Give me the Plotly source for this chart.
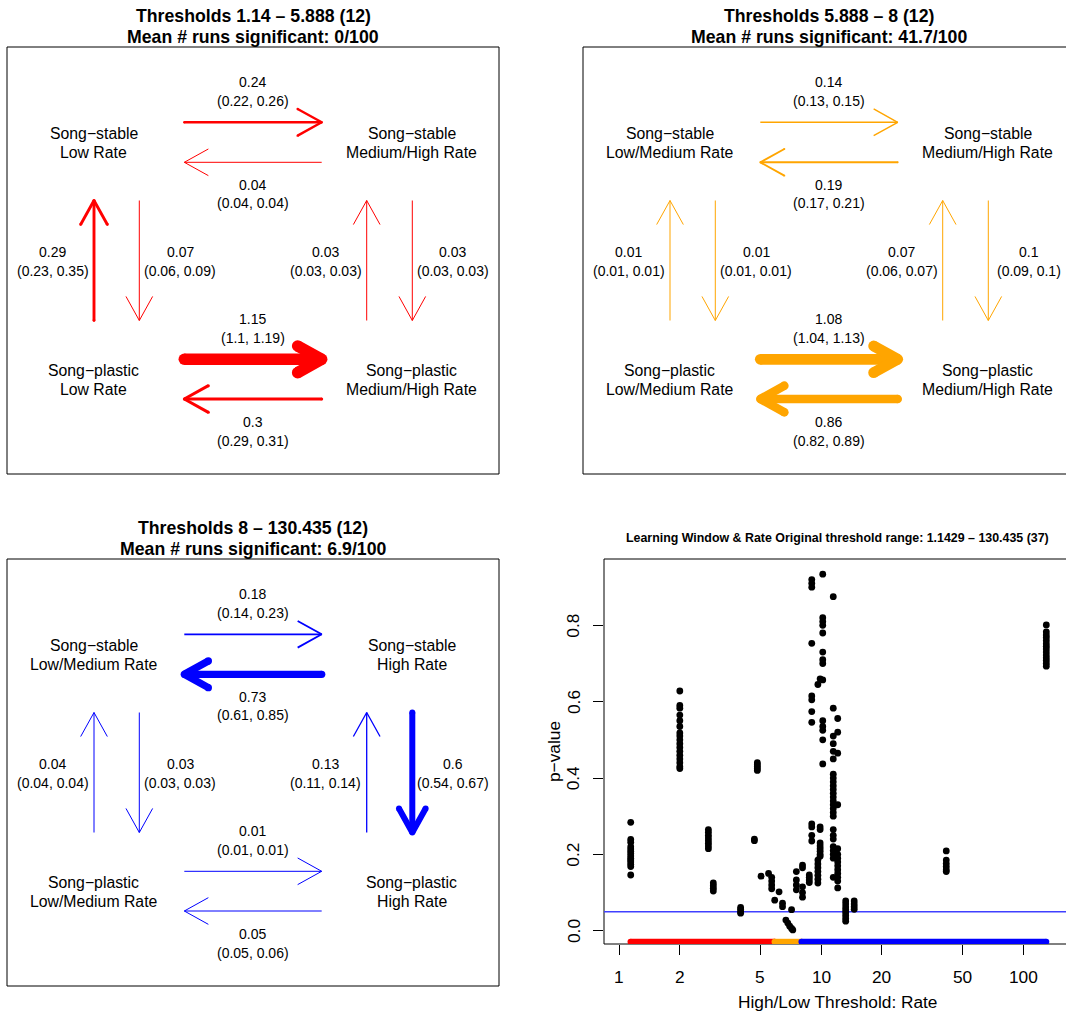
import math
import plotly.graph_objects as go

W, H = 1066, 1014
FONT = "Liberation Sans, Arial, Helvetica, sans-serif"

# ---------------- data ----------------
panel_titles = [
    ["Thresholds 1.14 – 5.888 (12)", "Mean # runs significant: 0/100"],
    ["Thresholds 5.888 – 8 (12)", "Mean # runs significant: 41.7/100"],
    ["Thresholds 8 – 130.435 (12)", "Mean # runs significant: 6.9/100"],
]
panel_colors = ["#FF0000", "#FFA500", "#0000FF"]

# node order: top-left, top-right, bottom-left, bottom-right
node_labels = [
    [["Song−stable", "Low Rate"], ["Song−stable", "Medium/High Rate"],
     ["Song−plastic", "Low Rate"], ["Song−plastic", "Medium/High Rate"]],
    [["Song−stable", "Low/Medium Rate"], ["Song−stable", "Medium/High Rate"],
     ["Song−plastic", "Low/Medium Rate"], ["Song−plastic", "Medium/High Rate"]],
    [["Song−stable", "Low/Medium Rate"], ["Song−stable", "High Rate"],
     ["Song−plastic", "Low/Medium Rate"], ["Song−plastic", "High Rate"]],
]

# transitions: TL->TR, TR->TL, BL->TL, TL->BL, BR->TR, TR->BR, BL->BR, BR->BL
rates_low = [0.24, 0.04, 0.29, 0.07, 0.03, 0.03, 1.15, 0.3]
ci_lo_low = [0.22, 0.04, 0.23, 0.06, 0.03, 0.03, 1.1, 0.29]
ci_hi_low = [0.26, 0.04, 0.35, 0.09, 0.03, 0.03, 1.19, 0.31]

rates_mid = [0.14, 0.19, 0.01, 0.01, 0.07, 0.1, 1.08, 0.86]
ci_lo_mid = [0.13, 0.17, 0.01, 0.01, 0.06, 0.09, 1.04, 0.82]
ci_hi_mid = [0.15, 0.21, 0.01, 0.01, 0.07, 0.1, 1.13, 0.89]

rates_high = [0.18, 0.73, 0.04, 0.03, 0.13, 0.6, 0.01, 0.05]
ci_lo_high = [0.14, 0.61, 0.04, 0.03, 0.11, 0.54, 0.01, 0.05]
ci_hi_high = [0.23, 0.85, 0.04, 0.03, 0.14, 0.67, 0.01, 0.06]

scatter_title = "Learning Window & Rate Original threshold range: 1.1429 – 130.435 (37)"
rate_thresholds = [1.143, 2.0, 2.77, 2.93, 4.0, 4.68, 4.84, 5.05, 5.5, 5.7, 5.9, 6.2,
                   6.45, 6.7, 6.85, 7.0, 7.15, 7.25, 7.55, 8.1, 8.75, 9.0, 9.65, 9.9,
                   10.2, 11.5, 12.1, 13.25, 14.6, 41.7, 130.435]
p_values = [
    [0.284, 0.239, 0.232, 0.22, 0.214, 0.208, 0.202, 0.196, 0.19, 0.185, 0.18, 0.174, 0.168, 0.146],
    [0.628, 0.59, 0.583, 0.565, 0.55, 0.535, 0.518, 0.51, 0.50, 0.49, 0.48, 0.47, 0.46, 0.45, 0.44, 0.43, 0.425],
    [0.265, 0.258, 0.25, 0.243, 0.236, 0.229, 0.222, 0.215],
    [0.125, 0.118, 0.111, 0.104],
    [0.061, 0.056, 0.05, 0.046],
    [0.24, 0.236],
    [0.44, 0.435, 0.43, 0.425, 0.42],
    [0.143],
    [0.150],
    [0.14, 0.13, 0.12, 0.11],
    [0.08],
    [0.102],
    [0.072, 0.063],
    [0.028],
    [0.02],
    [0.012],
    [0.006, 0.055],
    [0.002],
    [0.155, 0.133, 0.12, 0.107],
    [0.172, 0.165, 0.115, 0.1, 0.088],
    [0.146, 0.14, 0.133, 0.126],
    [0.92, 0.91, 0.90, 0.753, 0.615, 0.605, 0.574, 0.546, 0.28, 0.272, 0.25, 0.235],
    [0.645, 0.185, 0.175, 0.165, 0.155, 0.145, 0.135, 0.125],
    [0.66, 0.272, 0.265, 0.23, 0.222, 0.215, 0.208, 0.2, 0.195],
    [0.934, 0.82, 0.81, 0.80, 0.78, 0.73, 0.71, 0.70, 0.657, 0.55, 0.535, 0.525, 0.50, 0.437],
    [0.875, 0.583, 0.51, 0.49, 0.47, 0.45, 0.41, 0.40, 0.39, 0.38, 0.37, 0.36, 0.35, 0.34,
     0.33, 0.32, 0.31, 0.30, 0.265, 0.25, 0.24, 0.22, 0.21, 0.20, 0.19, 0.14],
    [0.556, 0.52, 0.465, 0.33, 0.215, 0.2, 0.19, 0.18, 0.17, 0.16, 0.15, 0.14, 0.13, 0.112],
    [0.078, 0.07, 0.062, 0.055, 0.048, 0.04, 0.032, 0.025],
    [0.078, 0.07, 0.063, 0.056],
    [0.209, 0.185, 0.176, 0.168, 0.16, 0.155],
    [0.801, 0.783, 0.775, 0.768, 0.76, 0.752, 0.745, 0.738, 0.73, 0.722, 0.715, 0.708, 0.70, 0.693],
]
significance_level = 0.05
range_breaks = [1.14, 5.888, 8, 130.435]
x_ticks = [1, 2, 5, 10, 20, 50, 100]
y_ticks = [0.0, 0.2, 0.4, 0.6, 0.8]

panels = [
    (rates_low, ci_lo_low, ci_hi_low),
    (rates_mid, ci_lo_mid, ci_hi_mid),
    (rates_high, ci_lo_high, ci_hi_high),
]

# ---------------- layout geometry (pixels) ----------------
BOX_W, BOX_H = 492, 427
panel_boxes = [(7, 47), (583, 47), (7, 559)]  # left, top of each diagram box

NODE_X = [86.5, 404.7, 86.5, 404.7]
NODE_Y = [96.3, 96.3, 333.3, 333.3]
NODE_DY = 9.35

AX0, AX1 = 177.3, 314.7
VY0, VY1 = 153.5, 273.5
arrow_geom = [
    ((AX0, 75.3), (AX1, 75.3), (245.7, 35.3)),
    ((AX1, 115.3), (AX0, 115.3), (245.7, 138.0)),
    ((87.0, VY1), (87.0, VY0), (45.7, 205.3)),
    ((132.3, VY0), (132.3, VY1), (173.0, 205.3)),
    ((359.7, VY1), (359.7, VY0), (318.7, 205.3)),
    ((405.3, VY0), (405.3, VY1), (445.7, 205.3)),
    ((AX0, 312.3), (AX1, 312.3), (245.7, 272.3)),
    ((AX1, 352.0), (AX0, 352.0), (245.7, 375.3)),
]
LABEL_DY = 18.2
HEAD_LEN = 27.5
HEAD_ANG = math.radians(29)

fig = go.Figure()
annotations = []
shapes = []
layout_axes = {}


def fx(px):
    return px / W


def fy(py):
    return 1 - py / H


def fmt(v):
    return f"{v:g}"


for i, (title, color, labels, (rates, lo, hi), (bx, by)) in enumerate(
        zip(panel_titles, panel_colors, node_labels, panels, panel_boxes)):
    n = i + 1
    xa = "x" if n == 1 else f"x{n}"
    ya = "y" if n == 1 else f"y{n}"
    right = min(bx + BOX_W, W)
    layout_axes[f"xaxis{'' if n == 1 else n}"] = dict(
        domain=[fx(bx), fx(right)], range=[0, right - bx], visible=False, anchor=ya, fixedrange=True)
    layout_axes[f"yaxis{'' if n == 1 else n}"] = dict(
        domain=[fy(by + BOX_H), fy(by)], range=[BOX_H, 0], visible=False, anchor=xa, fixedrange=True)

    # box (right side clipped by window for the top-right panel)
    line = dict(color="black", width=1)
    shapes.append(dict(type="line", xref="paper", yref="paper", x0=fx(bx), x1=fx(right),
                       y0=fy(by), y1=fy(by), line=line, layer="below"))
    shapes.append(dict(type="line", xref="paper", yref="paper", x0=fx(bx), x1=fx(right),
                       y0=fy(by + BOX_H), y1=fy(by + BOX_H), line=line, layer="below"))
    shapes.append(dict(type="line", xref="paper", yref="paper", x0=fx(bx), x1=fx(bx),
                       y0=fy(by), y1=fy(by + BOX_H), line=line, layer="below"))
    if bx + BOX_W <= W:
        shapes.append(dict(type="line", xref="paper", yref="paper", x0=fx(bx + BOX_W),
                           x1=fx(bx + BOX_W), y0=fy(by), y1=fy(by + BOX_H), line=line, layer="below"))

    # title
    cx = bx + BOX_W / 2
    for k, t in enumerate(title):
        annotations.append(dict(text=f"<b>{t}</b>", x=fx(cx), y=fy(16 + 20.7 * k + by - 47),
                                xref="paper", yref="paper", showarrow=False,
                                xanchor="center", yanchor="middle",
                                font=dict(family=FONT, size=17.7, color="black")))

    # node labels
    for (l1, l2), nx, ny in zip(labels, NODE_X, NODE_Y):
        for k, t in enumerate([l1, l2]):
            annotations.append(dict(text=t, x=nx, y=ny + (2 * k - 1) * NODE_DY, xref=xa, yref=ya,
                                    showarrow=False, xanchor="center", yanchor="middle",
                                    font=dict(family=FONT, size=15.8, color="black")))

    # arrows
    for r, l, h, (p0, p1, lab) in zip(rates, lo, hi, arrow_geom):
        w = max(1.0, r * 10.0)
        dx, dy = p1[0] - p0[0], p1[1] - p0[1]
        nrm = math.hypot(dx, dy)
        bxu, byu = -dx / nrm, -dy / nrm
        ca, sa = math.cos(HEAD_ANG), math.sin(HEAD_ANG)
        a1 = (p1[0] + HEAD_LEN * (bxu * ca - byu * sa), p1[1] + HEAD_LEN * (bxu * sa + byu * ca))
        a2 = (p1[0] + HEAD_LEN * (bxu * ca + byu * sa), p1[1] + HEAD_LEN * (-bxu * sa + byu * ca))
        fig.add_trace(go.Scatter(
            x=[p0[0], p1[0], None, a1[0], p1[0], a2[0]],
            y=[p0[1], p1[1], None, a1[1], p1[1], a2[1]],
            mode="lines", line=dict(color=color, width=w), xaxis=xa, yaxis=ya,
            hoverinfo="skip", showlegend=False))
        if w > 1.8:
            fig.add_trace(go.Scatter(
                x=[p0[0], p1[0], a1[0], a2[0]], y=[p0[1], p1[1], a1[1], a2[1]],
                mode="markers", marker=dict(color=color, size=w, line=dict(width=0)),
                xaxis=xa, yaxis=ya, hoverinfo="skip", showlegend=False))
        for k, t in enumerate([fmt(r), f"({fmt(l)}, {fmt(h)})"]):
            annotations.append(dict(text=t, x=lab[0], y=lab[1] + k * LABEL_DY, xref=xa, yref=ya,
                                    showarrow=False, xanchor="center", yanchor="middle",
                                    font=dict(family=FONT, size=14, color="black")))

# ---------------- scatter panel ----------------
SX0, SX1, SY0, SY1 = 604, W, 559, 944
layout_axes["xaxis4"] = dict(
    domain=[fx(SX0), 1.0], type="log", range=[-0.0743, 2.2129], anchor="y4",
    tickvals=x_ticks, ticks="outside", ticklen=10, tickwidth=1, tickcolor="black",
    showticklabels=False, showgrid=False, zeroline=False, showline=False, fixedrange=True)
layout_axes["yaxis4"] = dict(
    domain=[fy(SY1), fy(SY0)], range=[-0.0348, 0.9738], anchor="x4",
    tickvals=y_ticks, ticks="outside", ticklen=10, tickwidth=1, tickcolor="black",
    showticklabels=False, showgrid=False, zeroline=False, showline=False, fixedrange=True)

for (x0, y0, x1, y1) in [(SX0, SY0, SX0, SY1), (SX0, SY0, SX1, SY0), (SX0, SY1, SX1, SY1)]:
    shapes.append(dict(type="line", xref="paper", yref="paper", x0=fx(x0), x1=fx(x1),
                       y0=fy(y0), y1=fy(y1), line=dict(color="black", width=1), layer="below"))

# significance line
shapes.append(dict(type="line", xref="paper", yref="y4", x0=fx(SX0), x1=1.0,
                   y0=significance_level, y1=significance_level,
                   line=dict(color="#4040FF", width=1.5), layer="below"))

xs, ys = [], []
for t, pv in zip(rate_thresholds, p_values):
    for p in pv:
        xs.append(t)
        ys.append(p)
fig.add_trace(go.Scatter(x=xs, y=ys, mode="markers", xaxis="x4", yaxis="y4",
                         marker=dict(color="black", size=6.8, line=dict(width=0)),
                         hoverinfo="skip", showlegend=False))

bar_y = -0.029
for c, a, b in zip(panel_colors, range_breaks[:-1], range_breaks[1:]):
    fig.add_trace(go.Scatter(x=[a, b], y=[bar_y, bar_y], mode="lines+markers", xaxis="x4", yaxis="y4",
                             line=dict(color=c, width=6), marker=dict(color=c, size=6, line=dict(width=0)),
                             hoverinfo="skip", showlegend=False))

for v in x_ticks:
    annotations.append(dict(text=str(v), x=math.log10(v), y=fy(976.7), xref="x4", yref="paper",
                            showarrow=False, xanchor="center", yanchor="middle",
                            font=dict(family=FONT, size=17.3, color="black")))
for v in y_ticks:
    annotations.append(dict(text=f"{v:.1f}", x=fx(573.3), y=v, xref="paper", yref="y4",
                            showarrow=False, xanchor="center", yanchor="middle", textangle=-90,
                            font=dict(family=FONT, size=17.3, color="black")))
annotations.append(dict(text="High/Low Threshold: Rate", x=fx(837.8), y=fy(1001.7), xref="paper",
                        yref="paper", showarrow=False, xanchor="center", yanchor="middle",
                        font=dict(family=FONT, size=17.3, color="black")))
annotations.append(dict(text="p−value", x=fx(553.3), y=fy(751.7), xref="paper", yref="paper",
                        showarrow=False, xanchor="center", yanchor="middle", textangle=-90,
                        font=dict(family=FONT, size=17.3, color="black")))
annotations.append(dict(text=f"<b>{scatter_title}</b>", x=fx(837.5), y=fy(538.3), xref="paper",
                        yref="paper", showarrow=False, xanchor="center", yanchor="middle",
                        font=dict(family=FONT, size=12.4, color="black")))

fig.update_layout(
    width=W, height=H, margin=dict(l=0, r=0, t=0, b=0),
    paper_bgcolor="white", plot_bgcolor="rgba(0,0,0,0)",
    showlegend=False, annotations=annotations, shapes=shapes,
    **layout_axes,
)

fig.write_html("out.html", config={"displayModeBar": False})
